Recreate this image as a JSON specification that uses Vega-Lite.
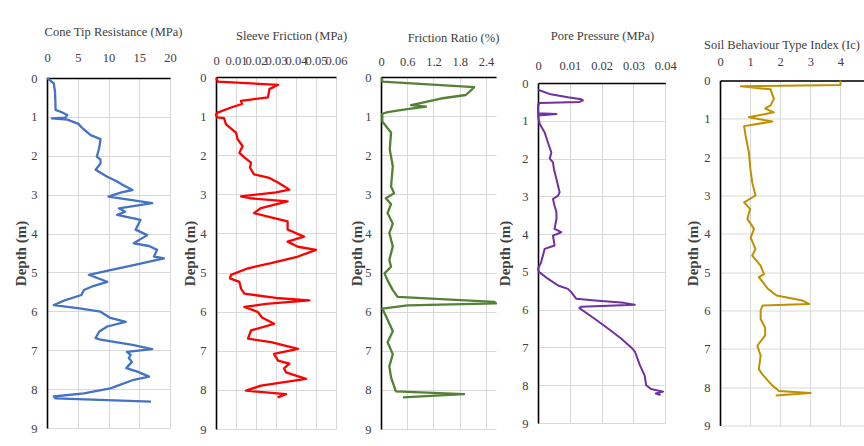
{
  "$schema": "https://vega.github.io/schema/vega-lite/v6.json",
  "padding": {"left": 13, "top": 25, "right": 0, "bottom": 0},
  "background": "#ffffff",
  "datasets": {
    "cone": [
      {"d": 0, "v": 0}, {"d": 0.14, "v": 1.1}, {"d": 0.35, "v": 1.3}, {"d": 0.56, "v": 1.35}, {"d": 0.82, "v": 1.4},
      {"d": 0.88, "v": 2.4}, {"d": 0.95, "v": 3.3}, {"d": 1.02, "v": 3.0}, {"d": 1.04, "v": 0.8}, {"d": 1.07, "v": 3.3},
      {"d": 1.18, "v": 5.1}, {"d": 1.28, "v": 5.7}, {"d": 1.47, "v": 7.1}, {"d": 1.57, "v": 8.7}, {"d": 1.7, "v": 8.6},
      {"d": 1.85, "v": 8.4}, {"d": 2.02, "v": 8.1}, {"d": 2.1, "v": 8.7}, {"d": 2.2, "v": 8.7}, {"d": 2.36, "v": 7.9},
      {"d": 2.54, "v": 9.8}, {"d": 2.66, "v": 11.4}, {"d": 2.74, "v": 12.2}, {"d": 2.88, "v": 13.9}, {"d": 2.94, "v": 12.1},
      {"d": 3.05, "v": 10.0}, {"d": 3.12, "v": 13.0}, {"d": 3.22, "v": 17.1}, {"d": 3.35, "v": 11.7}, {"d": 3.44, "v": 12.7},
      {"d": 3.52, "v": 11.4}, {"d": 3.65, "v": 15.2}, {"d": 3.9, "v": 14.4}, {"d": 4.04, "v": 16.3}, {"d": 4.25, "v": 14.1},
      {"d": 4.32, "v": 16.6}, {"d": 4.42, "v": 17.9}, {"d": 4.59, "v": 17.4}, {"d": 4.64, "v": 19.0}, {"d": 4.81, "v": 14.1},
      {"d": 4.94, "v": 10.3}, {"d": 5.06, "v": 6.8}, {"d": 5.24, "v": 9.8}, {"d": 5.35, "v": 7.5}, {"d": 5.45, "v": 6.0},
      {"d": 5.58, "v": 5.6}, {"d": 5.71, "v": 3.0}, {"d": 5.84, "v": 1.1}, {"d": 5.92, "v": 5.0}, {"d": 6.01, "v": 8.7},
      {"d": 6.17, "v": 10.3}, {"d": 6.27, "v": 12.8}, {"d": 6.39, "v": 9.8}, {"d": 6.52, "v": 8.5}, {"d": 6.69, "v": 7.9},
      {"d": 6.73, "v": 8.7}, {"d": 6.86, "v": 13.9}, {"d": 6.97, "v": 17.1}, {"d": 7.04, "v": 13.0}, {"d": 7.12, "v": 13.6},
      {"d": 7.2, "v": 13.3}, {"d": 7.3, "v": 13.8}, {"d": 7.46, "v": 12.9}, {"d": 7.55, "v": 14.7}, {"d": 7.68, "v": 16.6},
      {"d": 7.76, "v": 14.1}, {"d": 7.98, "v": 10.3}, {"d": 8.11, "v": 6.0}, {"d": 8.19, "v": 1.1}, {"d": 8.24, "v": 1.4},
      {"d": 8.32, "v": 16.9}
    ],
    "sleeve": [
      {"d": 0.02, "v": 0}, {"d": 0.12, "v": 0.001}, {"d": 0.2, "v": 0.031}, {"d": 0.31, "v": 0.0267}, {"d": 0.52, "v": 0.026},
      {"d": 0.61, "v": 0.0125}, {"d": 0.69, "v": 0.013}, {"d": 0.78, "v": 0.0075}, {"d": 0.91, "v": 0.0008}, {"d": 0.96, "v": 0},
      {"d": 1.03, "v": 0.0005}, {"d": 1.05, "v": 0.004}, {"d": 1.21, "v": 0.005}, {"d": 1.42, "v": 0.01}, {"d": 1.59, "v": 0.0108},
      {"d": 1.77, "v": 0.0133}, {"d": 1.85, "v": 0.0125}, {"d": 1.94, "v": 0.0117}, {"d": 2.05, "v": 0.014}, {"d": 2.19, "v": 0.0175},
      {"d": 2.32, "v": 0.017}, {"d": 2.49, "v": 0.019}, {"d": 2.58, "v": 0.0267}, {"d": 2.7, "v": 0.031}, {"d": 2.88, "v": 0.0367},
      {"d": 2.95, "v": 0.03}, {"d": 3.05, "v": 0.0125}, {"d": 3.1, "v": 0.017}, {"d": 3.18, "v": 0.0358}, {"d": 3.35, "v": 0.0225},
      {"d": 3.48, "v": 0.019}, {"d": 3.58, "v": 0.027}, {"d": 3.69, "v": 0.0358}, {"d": 3.9, "v": 0.0358}, {"d": 4.08, "v": 0.044},
      {"d": 4.21, "v": 0.0358}, {"d": 4.34, "v": 0.041}, {"d": 4.42, "v": 0.05}, {"d": 4.59, "v": 0.041}, {"d": 4.76, "v": 0.0275},
      {"d": 4.89, "v": 0.016}, {"d": 5.06, "v": 0.0075}, {"d": 5.15, "v": 0.007}, {"d": 5.24, "v": 0.0117}, {"d": 5.41, "v": 0.0125},
      {"d": 5.54, "v": 0.0142}, {"d": 5.65, "v": 0.03}, {"d": 5.71, "v": 0.0467}, {"d": 5.8, "v": 0.025}, {"d": 5.88, "v": 0.0142},
      {"d": 6.01, "v": 0.021}, {"d": 6.15, "v": 0.023}, {"d": 6.31, "v": 0.029}, {"d": 6.48, "v": 0.0175}, {"d": 6.69, "v": 0.016},
      {"d": 6.78, "v": 0.0275}, {"d": 6.95, "v": 0.041}, {"d": 7.08, "v": 0.029}, {"d": 7.25, "v": 0.031}, {"d": 7.33, "v": 0.0367},
      {"d": 7.45, "v": 0.034}, {"d": 7.55, "v": 0.035}, {"d": 7.72, "v": 0.045}, {"d": 7.89, "v": 0.0225}, {"d": 8.02, "v": 0.015},
      {"d": 8.11, "v": 0.035}, {"d": 8.19, "v": 0.0308}
    ],
    "ratio": [
      {"d": 0.02, "v": 0.02}, {"d": 0.12, "v": 0.03}, {"d": 0.26, "v": 2.13}, {"d": 0.35, "v": 2.05}, {"d": 0.46, "v": 1.94},
      {"d": 0.55, "v": 1.37}, {"d": 0.72, "v": 0.69}, {"d": 0.76, "v": 1.03}, {"d": 0.82, "v": 0.6}, {"d": 0.9, "v": 0.15},
      {"d": 0.94, "v": 0.03}, {"d": 1.14, "v": 0.03}, {"d": 1.42, "v": 0.23}, {"d": 1.85, "v": 0.2}, {"d": 2.28, "v": 0.27},
      {"d": 2.8, "v": 0.23}, {"d": 2.97, "v": 0.3}, {"d": 3.1, "v": 0.11}, {"d": 3.25, "v": 0.23}, {"d": 3.48, "v": 0.15},
      {"d": 3.75, "v": 0.27}, {"d": 3.99, "v": 0.19}, {"d": 4.33, "v": 0.27}, {"d": 4.68, "v": 0.19}, {"d": 4.85, "v": 0.23},
      {"d": 5.02, "v": 0.08}, {"d": 5.2, "v": 0.15}, {"d": 5.45, "v": 0.27}, {"d": 5.62, "v": 0.38}, {"d": 5.75, "v": 2.59},
      {"d": 5.79, "v": 2.63}, {"d": 5.84, "v": 0.61}, {"d": 5.92, "v": 0.03}, {"d": 6.2, "v": 0.15}, {"d": 6.5, "v": 0.27},
      {"d": 6.78, "v": 0.15}, {"d": 7.09, "v": 0.27}, {"d": 7.4, "v": 0.19}, {"d": 7.68, "v": 0.23}, {"d": 8.04, "v": 0.34},
      {"d": 8.11, "v": 1.9}, {"d": 8.19, "v": 0.5}
    ],
    "pore": [
      {"d": 0.18, "v": 0}, {"d": 0.3, "v": 0.004}, {"d": 0.38, "v": 0.0094}, {"d": 0.43, "v": 0.0136}, {"d": 0.46, "v": 0.0141},
      {"d": 0.5, "v": 0.013}, {"d": 0.53, "v": 0.0005}, {"d": 0.58, "v": 0}, {"d": 0.8, "v": 0}, {"d": 0.82, "v": 0.0058},
      {"d": 0.86, "v": 0}, {"d": 1.08, "v": 0.0005}, {"d": 1.31, "v": 0.0021}, {"d": 1.57, "v": 0.0031}, {"d": 1.84, "v": 0.0042},
      {"d": 2.0, "v": 0.0037}, {"d": 2.1, "v": 0.0047}, {"d": 2.27, "v": 0.005}, {"d": 2.72, "v": 0.0063}, {"d": 2.89, "v": 0.0068},
      {"d": 2.98, "v": 0.0063}, {"d": 3.07, "v": 0.0047}, {"d": 3.25, "v": 0.0052}, {"d": 3.42, "v": 0.0058}, {"d": 3.6, "v": 0.0058},
      {"d": 3.86, "v": 0.0052}, {"d": 3.95, "v": 0.0073}, {"d": 4.04, "v": 0.0047}, {"d": 4.3, "v": 0.0052}, {"d": 4.39, "v": 0.0021},
      {"d": 4.74, "v": 0.001}, {"d": 4.92, "v": 0}, {"d": 5.0, "v": 0.0003}, {"d": 5.18, "v": 0.0031}, {"d": 5.36, "v": 0.0063},
      {"d": 5.45, "v": 0.0094}, {"d": 5.54, "v": 0.0105}, {"d": 5.71, "v": 0.012}, {"d": 5.76, "v": 0.018}, {"d": 5.82, "v": 0.027},
      {"d": 5.87, "v": 0.0304}, {"d": 5.92, "v": 0.0136}, {"d": 5.96, "v": 0.013}, {"d": 6.24, "v": 0.0178}, {"d": 6.5, "v": 0.022},
      {"d": 6.77, "v": 0.0262}, {"d": 7.0, "v": 0.0293}, {"d": 7.12, "v": 0.0305}, {"d": 7.47, "v": 0.032}, {"d": 7.74, "v": 0.0335},
      {"d": 8.0, "v": 0.034}, {"d": 8.1, "v": 0.0355}, {"d": 8.17, "v": 0.0393}, {"d": 8.22, "v": 0.037}, {"d": 8.26, "v": 0.0385}
    ],
    "ic": [
      {"d": 0.0, "v": 4.0}, {"d": 0.12, "v": 4.0}, {"d": 0.15, "v": 0.69}, {"d": 0.23, "v": 1.68}, {"d": 0.48, "v": 1.79},
      {"d": 0.65, "v": 1.68}, {"d": 0.73, "v": 1.5}, {"d": 0.83, "v": 1.79}, {"d": 0.96, "v": 0.96}, {"d": 1.07, "v": 1.74},
      {"d": 1.19, "v": 0.8}, {"d": 1.44, "v": 0.85}, {"d": 1.88, "v": 0.96}, {"d": 2.31, "v": 1.01}, {"d": 2.66, "v": 1.07},
      {"d": 3.0, "v": 1.18}, {"d": 3.18, "v": 0.8}, {"d": 3.35, "v": 1.0}, {"d": 3.61, "v": 0.91}, {"d": 3.87, "v": 1.13},
      {"d": 4.1, "v": 1.02}, {"d": 4.4, "v": 1.18}, {"d": 4.57, "v": 1.07}, {"d": 4.83, "v": 1.35}, {"d": 5.05, "v": 1.46},
      {"d": 5.13, "v": 1.29}, {"d": 5.44, "v": 1.6}, {"d": 5.61, "v": 1.88}, {"d": 5.74, "v": 2.74}, {"d": 5.83, "v": 2.96},
      {"d": 5.87, "v": 1.41}, {"d": 6.0, "v": 1.35}, {"d": 6.22, "v": 1.35}, {"d": 6.45, "v": 1.5}, {"d": 6.65, "v": 1.5},
      {"d": 6.92, "v": 1.24}, {"d": 7.18, "v": 1.35}, {"d": 7.53, "v": 1.29}, {"d": 7.66, "v": 1.4}, {"d": 7.96, "v": 1.74},
      {"d": 8.1, "v": 1.96}, {"d": 8.15, "v": 3.01}, {"d": 8.22, "v": 1.85}
    ]
  },
  "bounds": "flush",
  "center": true,
  "spacing": 0,
  "hconcat": [
    {
      "data": {"name": "cone"},
      "width": 123,
      "height": 350,
      "mark": {"type": "line", "color": "#4472C4", "strokeWidth": 2.3, "strokeJoin": "round"},
      "encoding": {
        "x": {"field": "v", "type": "quantitative", "scale": {"domain": [0, 20], "nice": false},
              "axis": {"orient": "top", "title": "Cone Tip Resistance (MPa)", "values": [0, 5, 10, 15, 20], "format": "~g", "labelPadding": 14, "titlePadding": 13, "titleX": 66}},
        "y": {"field": "d", "type": "quantitative", "scale": {"domain": [0, 9], "reverse": true, "nice": false},
              "axis": {"title": "Depth (m)", "values": [0, 1, 2, 3, 4, 5, 6, 7, 8, 9]}},
        "order": {"field": "d", "type": "quantitative"}
      }
    },
    {"data": {"values": []}, "mark": "point", "width": 45.3, "height": 1},
    {
      "data": {"name": "sleeve"},
      "width": 120,
      "height": 352,
      "mark": {"type": "line", "color": "#FF0000", "strokeWidth": 2.3, "strokeJoin": "round"},
      "encoding": {
        "x": {"field": "v", "type": "quantitative", "scale": {"domain": [0, 0.06], "nice": false},
              "axis": {"orient": "top", "title": "Sleeve Friction (MPa)", "values": [0, 0.01, 0.02, 0.03, 0.04, 0.05, 0.06], "format": "~g", "labelPadding": 10, "titlePadding": 12, "titleX": 75}},
        "y": {"field": "d", "type": "quantitative", "scale": {"domain": [0, 9], "reverse": true, "nice": false},
              "axis": {"title": "Depth (m)", "values": [0, 1, 2, 3, 4, 5, 6, 7, 8, 9]}},
        "order": {"field": "d", "type": "quantitative"}
      }
    },
    {"data": {"values": []}, "mark": "point", "width": 45, "height": 1},
    {
      "data": {"name": "ratio"},
      "width": 115,
      "height": 352,
      "mark": {"type": "line", "color": "#548235", "strokeWidth": 2.3, "strokeJoin": "round"},
      "encoding": {
        "x": {"field": "v", "type": "quantitative", "scale": {"domain": [0, 2.63], "nice": false},
              "axis": {"orient": "top", "title": "Friction Ratio (%)", "values": [0, 0.6, 1.2, 1.8, 2.4], "format": "~g", "labelPadding": 9, "titlePadding": 11, "titleX": 72}},
        "y": {"field": "d", "type": "quantitative", "scale": {"domain": [0, 9], "reverse": true, "nice": false},
              "axis": {"title": "Depth  (m)", "values": [0, 1, 2, 3, 4, 5, 6, 7, 8, 9], "titlePadding": 0}},
        "order": {"field": "d", "type": "quantitative"}
      }
    },
    {"data": {"values": []}, "mark": "point", "width": 41.7, "height": 1},
    {
      "data": {"name": "pore"},
      "width": 127.3,
      "height": 340,
      "mark": {"type": "line", "color": "#7030A0", "strokeWidth": 2, "strokeJoin": "round"},
      "encoding": {
        "x": {"field": "v", "type": "quantitative", "scale": {"domain": [0, 0.04], "nice": false},
              "axis": {"orient": "top", "title": "Pore Pressure (MPa)", "values": [0, 0.01, 0.02, 0.03, 0.04], "format": "~g", "labelPadding": 10.5, "titlePadding": 17, "titleX": 64}},
        "y": {"field": "d", "type": "quantitative", "scale": {"domain": [0, 9], "reverse": true, "nice": false},
              "axis": {"title": "Depth (m)", "values": [0, 1, 2, 3, 4, 5, 6, 7, 8, 9], "titlePadding": 9}},
        "order": {"field": "d", "type": "quantitative"}
      }
    },
    {"data": {"values": []}, "mark": "point", "width": 53.7, "height": 1},
    {
      "data": {"name": "ic"},
      "width": 146.3,
      "height": 345,
      "mark": {"type": "line", "color": "#BF9000", "strokeWidth": 2, "strokeJoin": "round"},
      "encoding": {
        "x": {"field": "v", "type": "quantitative", "scale": {"domain": [0, 4.86], "nice": false},
              "axis": {"orient": "top", "title": "Soil Behaviour Type Index (Ic)", "values": [0, 1, 2, 3, 4], "format": "~g", "labelPadding": 12, "titlePadding": 4, "titleX": 61.5}},
        "y": {"field": "d", "type": "quantitative", "scale": {"domain": [0, 9], "reverse": true, "nice": false},
              "axis": {"title": "Depth (m)", "values": [0, 1, 2, 3, 4, 5, 6, 7, 8, 9], "titlePadding": 3}},
        "order": {"field": "d", "type": "quantitative"}
      }
    }
  ],
  "config": {
    "view": {"stroke": null},
    "font": "Liberation Serif",
    "axis": {
      "labelFont": "Liberation Serif",
      "titleFont": "Liberation Serif",
      "labelFontSize": 12.5,
      "titleFontSize": 12.5,
      "titleFontWeight": "normal",
      "labelColor": "#404040",
      "titleColor": "#404040",
      "grid": true,
      "gridColor": "#d9d9d9",
      "gridWidth": 1,
      "ticks": false,
      "domainColor": "#000000",
      "domainWidth": 1.6,
      "labelOverlap": false,
      "labelFlush": false,
      "labelBound": false
    },
    "axisY": {
      "titleFontWeight": "bold",
      "titleFontSize": 15,
      "labelPadding": 10,
      "titlePadding": 2
    }
  }
}
